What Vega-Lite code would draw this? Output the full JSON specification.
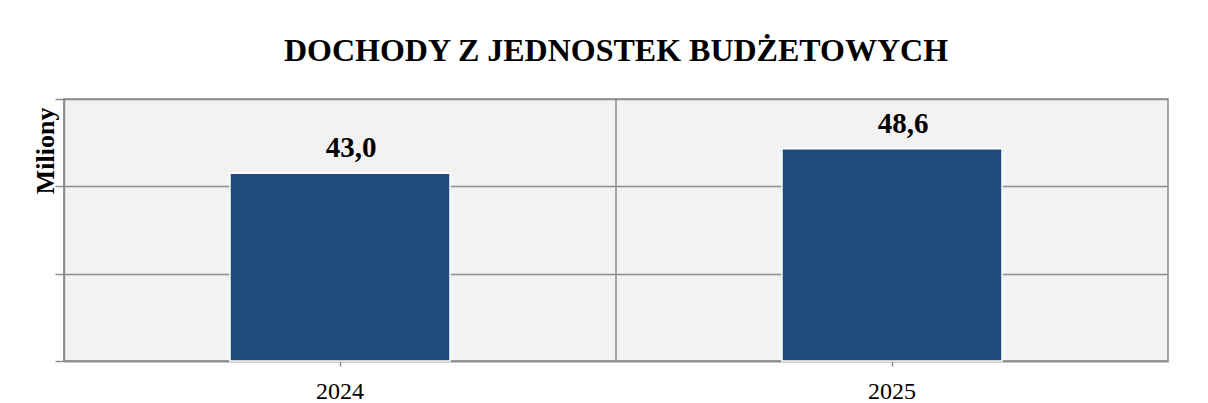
{
  "$schema": "https://vega.github.io/schema/vega-lite/v6.json",
  "autosize": "none",
  "width": 1104,
  "height": 262,
  "padding": {"left": 64, "top": 99, "right": 40, "bottom": 42},
  "background": "#ffffff",
  "title": {
    "text": "DOCHODY Z JEDNOSTEK BUDŻETOWYCH",
    "font": "Liberation Serif",
    "fontSize": 32,
    "fontWeight": "bold",
    "color": "#000000",
    "anchor": "middle",
    "baseline": "alphabetic",
    "offset": 5
  },
  "config": {
    "locale": {"number": {"decimal": ",", "thousands": " ", "grouping": [3], "currency": ["", " zł"]}},
    "view": {"fill": "#f2f2f2", "stroke": "#8c8c8c", "strokeWidth": 1.5}
  },
  "data": {"values": [
    {"year": "2024", "value": 43.0},
    {"year": "2025", "value": 48.6}
  ]},
  "encoding": {
    "x": {
      "field": "year",
      "type": "nominal",
      "sort": null,
      "scale": {"paddingInner": 0, "paddingOuter": 0},
      "axis": {
        "title": null,
        "labelAngle": 0,
        "labelFont": "Liberation Serif",
        "labelFontSize": 24,
        "labelColor": "#000000",
        "labelBaseline": "alphabetic",
        "labelPadding": 32,
        "tickSize": 5,
        "tickColor": "#8c8c8c",
        "tickWidth": 1.5,
        "domainColor": "#8c8c8c",
        "domainWidth": 1.5,
        "grid": false
      }
    }
  },
  "layer": [
    {
      "mark": {"type": "rule", "color": "#8c8c8c", "strokeWidth": 1.5},
      "encoding": {
        "x": {"field": "year", "type": "nominal", "sort": null, "bandPosition": 0}
      }
    },
    {
      "mark": {"type": "bar", "color": "#1f4a7c", "stroke": "#ffffff", "strokeWidth": 1.5, "width": {"band": 0.3986}},
      "encoding": {
        "y": {
          "field": "value",
          "type": "quantitative",
          "scale": {"domain": [0, 60], "nice": false, "zero": true},
          "axis": {
            "values": [0, 20, 40, 60],
            "labels": false,
            "tickSize": 9,
            "tickColor": "#8c8c8c",
            "tickWidth": 1.5,
            "domainColor": "#8c8c8c",
            "domainWidth": 1.5,
            "grid": true,
            "gridColor": "#8c8c8c",
            "gridWidth": 1.5,
            "gridOpacity": 1,
            "title": "Miliony",
            "titleFont": "Liberation Serif",
            "titleFontSize": 26,
            "titleFontWeight": "bold",
            "titleColor": "#000000",
            "titleAnchor": "end",
            "titleAlign": "right",
            "titleAngle": -90,
            "titleBaseline": "alphabetic",
            "titleX": -11,
            "titleY": 8
          }
        }
      }
    },
    {
      "mark": {"type": "text", "font": "Liberation Serif", "fontSize": 29, "fontWeight": "bold", "color": "#000000", "baseline": "alphabetic", "dy": -16, "dx": 11},
      "encoding": {
        "y": {"field": "value", "type": "quantitative"},
        "text": {"field": "value", "type": "quantitative", "format": ".1f"}
      }
    }
  ]
}
